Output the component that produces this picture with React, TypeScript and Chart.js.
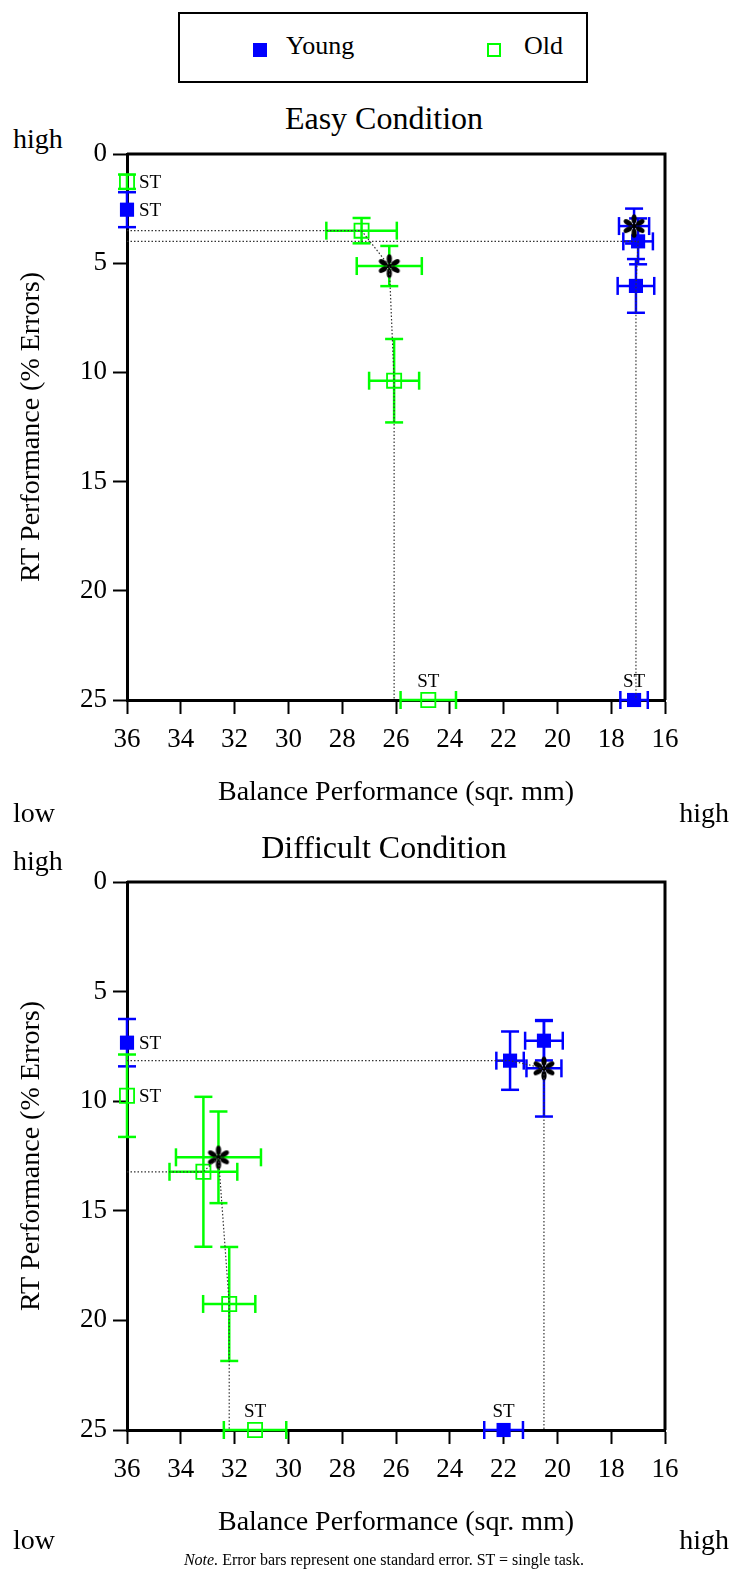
import React, { useEffect, useRef } from 'react';
import { Chart, registerables } from 'chart.js';

Chart.register(...registerables);

const SERIF = '"Liberation Serif", "Times New Roman", Times, serif';
const BLUE = '#0000ff';
const GREEN = '#00ff00';

// Tick labels
const xTicks = [36, 34, 32, 30, 28, 26, 24, 22, 20, 18, 16];
const yTicks = [0, 5, 10, 15, 20, 25];

// ---------- Easy condition ----------
// Young: squares (ST RT, ST balance, dual-task points)
const easyYoungSqX = [36, 17.15, 17.0, 17.08];
const easyYoungSqY = [2.55, 25, 4.0, 6.04];
const easyYoungSqXErr = [0, 0.51, 0.55, 0.68];
const easyYoungSqYErr = [0.8, 0, 1.05, 1.23];
const easyYoungSqTag = ['ST', 'ST', '', ''];
const easyYoungStarX = [17.15];
const easyYoungStarY = [3.3];
const easyYoungStarXErr = [0.56];
const easyYoungStarYErr = [0.8];
const easyYoungPathX = [36, 17.0, 17.08, 17.08];
const easyYoungPathY = [4.0, 4.0, 6.04, 25];
// Old
const easyOldSqX = [36, 24.8, 27.28, 26.07];
const easyOldSqY = [1.27, 25, 3.51, 10.38];
const easyOldSqXErr = [0, 1.03, 1.31, 0.93];
const easyOldSqYErr = [0.33, 0, 0.58, 1.91];
const easyOldSqTag = ['ST', 'ST', '', ''];
const easyOldStarX = [26.25];
const easyOldStarY = [5.13];
const easyOldStarXErr = [1.21];
const easyOldStarYErr = [0.92];
const easyOldPathX = [36, 27.28, 26.25, 26.07, 26.07];
const easyOldPathY = [3.51, 3.51, 5.13, 10.38, 25];

// ---------- Difficult condition ----------
const diffYoungSqX = [36, 22.0, 21.76, 20.5];
const diffYoungSqY = [7.33, 25, 8.15, 7.24];
const diffYoungSqXErr = [0, 0.72, 0.51, 0.7];
const diffYoungSqYErr = [1.08, 0, 1.33, 0.9];
const diffYoungSqTag = ['ST', 'ST', '', ''];
const diffYoungStarX = [20.5];
const diffYoungStarY = [8.5];
const diffYoungStarXErr = [0.65];
const diffYoungStarYErr = [2.2];
const diffYoungPathX = [36, 21.76, 20.5, 20.5];
const diffYoungPathY = [8.15, 8.15, 8.5, 25];

const diffOldSqX = [36, 31.24, 33.16, 32.2];
const diffOldSqY = [9.75, 25, 13.22, 19.25];
const diffOldSqXErr = [0, 1.16, 1.26, 0.97];
const diffOldSqYErr = [1.88, 0, 3.42, 2.6];
const diffOldSqTag = ['ST', 'ST', '', ''];
const diffOldStarX = [32.6];
const diffOldStarY = [12.56];
const diffOldStarXErr = [1.58];
const diffOldStarYErr = [2.09];
const diffOldPathX = [36, 33.16, 32.6, 32.2, 32.2];
const diffOldPathY = [13.22, 13.22, 12.56, 19.25, 25];

function makeAsterisk(): HTMLCanvasElement {
  const c = document.createElement('canvas');
  c.width = 30;
  c.height = 30;
  const ctx = c.getContext('2d')!;
  ctx.fillStyle = '#000';
  ctx.strokeStyle = '#000';
  ctx.lineWidth = 1.8;
  for (let k = 0; k < 6; k++) {
    const a = -Math.PI / 2 + (k * Math.PI) / 3;
    ctx.beginPath();
    ctx.moveTo(15, 15);
    ctx.lineTo(15 + 8 * Math.cos(a), 15 + 8 * Math.sin(a));
    ctx.stroke();
    ctx.beginPath();
    ctx.ellipse(15 + 7.2 * Math.cos(a), 15 + 7.2 * Math.sin(a), 4.6, 2.6, a, 0, Math.PI * 2);
    ctx.fill();
  }
  ctx.beginPath();
  ctx.arc(15, 15, 2.2, 0, Math.PI * 2);
  ctx.fill();
  return c;
}

const pts = (xs: number[], ys: number[], xe?: number[], ye?: number[], tags?: string[]) =>
  xs.map((x, i) => ({ x, y: ys[i], xErr: xe ? xe[i] : 0, yErr: ye ? ye[i] : 0, tag: tags ? tags[i] : '' }));

function groupDatasets(
  name: string,
  color: string,
  filled: boolean,
  star: HTMLCanvasElement,
  sq: [number[], number[], number[], number[], string[]],
  st: [number[], number[], number[], number[]],
  path: [number[], number[]]
) {
  return [
    {
      label: name + ' path',
      data: pts(path[0], path[1]),
      showLine: true,
      borderColor: '#333',
      borderWidth: 1.2,
      borderDash: [1.5, 2],
      pointRadius: 0,
      clip: false,
      order: 0,
    },
    {
      label: name + ' no priority',
      data: pts(st[0], st[1], st[2], st[3]),
      pointStyle: star,
      pointRadius: 12,
      errColor: color,
      clip: false,
      order: 0,
    },
    {
      label: name,
      data: pts(sq[0], sq[1], sq[2], sq[3], sq[4]),
      pointStyle: 'rect',
      pointRadius: 10,
      backgroundColor: filled ? color : 'rgba(255,255,255,0)',
      borderColor: color,
      borderWidth: filled ? 0 : 1.8,
      errColor: color,
      clip: false,
      order: 1,
    },
  ];
}

const CAP = 9;
const errorBarPlugin = {
  id: 'errorBars',
  beforeDatasetsDraw(chart: any) {
    const ctx = chart.ctx;
    const xs = chart.scales.x;
    const ys = chart.scales.y;
    chart.data.datasets.forEach((ds: any) => {
      if (!ds.errColor) return;
      ctx.save();
      ctx.strokeStyle = ds.errColor;
      ctx.lineWidth = 2.5;
      const seg = (a: number, b: number, c: number, d: number) => {
        ctx.beginPath();
        ctx.moveTo(a, b);
        ctx.lineTo(c, d);
        ctx.stroke();
      };
      ds.data.forEach((p: any) => {
        const px = xs.getPixelForValue(p.x);
        const py = ys.getPixelForValue(p.y);
        if (p.xErr) {
          const a = xs.getPixelForValue(p.x - p.xErr);
          const b = xs.getPixelForValue(p.x + p.xErr);
          seg(a, py, b, py);
          seg(a, py - CAP, a, py + CAP);
          seg(b, py - CAP, b, py + CAP);
        }
        if (p.yErr) {
          const a = ys.getPixelForValue(p.y - p.yErr);
          const b = ys.getPixelForValue(p.y + p.yErr);
          seg(px, a, px, b);
          seg(px - CAP, a, px + CAP, a);
          seg(px - CAP, b, px + CAP, b);
        }
      });
      ctx.restore();
    });
  },
};

const stLabelPlugin = {
  id: 'stLabels',
  afterDatasetsDraw(chart: any) {
    const ctx = chart.ctx;
    const xs = chart.scales.x;
    const ys = chart.scales.y;
    ctx.save();
    ctx.fillStyle = '#000';
    ctx.font = '19px ' + SERIF;
    chart.data.datasets.forEach((ds: any) => {
      ds.data.forEach((p: any) => {
        if (!p.tag) return;
        const px = xs.getPixelForValue(p.x);
        const py = ys.getPixelForValue(p.y);
        if (p.y >= ys.max) {
          ctx.textAlign = 'center';
          ctx.textBaseline = 'alphabetic';
          ctx.fillText(p.tag, px, py - 13);
        } else {
          ctx.textAlign = 'left';
          ctx.textBaseline = 'middle';
          ctx.fillText(p.tag, px + 12, py + 1);
        }
      });
    });
    ctx.restore();
  },
};

const framePlugin = {
  id: 'frame',
  afterDraw(chart: any) {
    const { left, right, top, bottom } = chart.chartArea;
    const ctx = chart.ctx;
    ctx.save();
    ctx.strokeStyle = '#000';
    ctx.lineWidth = 3;
    ctx.beginPath();
    ctx.moveTo(left, top);
    ctx.lineTo(right, top);
    ctx.lineTo(right, bottom);
    ctx.stroke();
    ctx.restore();
  },
};

function makeOptions(): any {
  const tickFont = { family: SERIF, size: 27 };
  const grid = {
    display: true,
    drawOnChartArea: false,
    drawTicks: true,
    tickLength: 14,
    tickWidth: 2,
    tickColor: '#000',
  };
  const border = { display: true, color: '#000', width: 3 };
  return {
    animation: false,
    responsive: false,
    events: [],
    layout: { padding: { top: 54, right: 82, left: 0, bottom: 0 } },
    plugins: { legend: { display: false }, tooltip: { enabled: false }, title: { display: false } },
    scales: {
      x: {
        type: 'linear',
        reverse: true,
        min: 16,
        max: 36,
        afterBuildTicks: (s: any) => {
          s.ticks = xTicks.map((v) => ({ value: v }));
        },
        ticks: { font: tickFont, color: '#000', padding: 10, maxRotation: 0, autoSkip: false },
        grid,
        border,
        title: {
          display: true,
          text: 'Balance Performance (sqr. mm)',
          font: { family: SERIF, size: 28 },
          color: '#000',
          padding: { top: 0, bottom: 21 },
        },
        afterFit: (s: any) => {
          s.height = 130;
          s.paddingLeft = 0;
          s.paddingRight = 0;
        },
      },
      y: {
        type: 'linear',
        reverse: true,
        min: 0,
        max: 25,
        afterBuildTicks: (s: any) => {
          s.ticks = yTicks.map((v) => ({ value: v }));
        },
        ticks: { font: tickFont, color: '#000', padding: 6 },
        grid,
        border,
        title: {
          display: true,
          text: 'RT Performance (% Errors)',
          font: { family: SERIF, size: 28 },
          color: '#000',
          padding: { top: 15, bottom: 0 },
        },
        afterFit: (s: any) => {
          s.width = 127;
          s.paddingTop = 0;
          s.paddingBottom = 0;
        },
      },
    },
  };
}

function Txt(props: {
  children: React.ReactNode;
  size: number;
  baseline: number;
  left?: number;
  right?: number;
  cx?: number;
}) {
  const { size, baseline } = props;
  const style: React.CSSProperties = {
    position: 'absolute',
    top: baseline - 0.8375 * size,
    fontSize: size,
    lineHeight: size + 'px',
    whiteSpace: 'nowrap',
    fontFamily: SERIF,
    color: '#000',
  };
  if (props.cx !== undefined) {
    style.left = props.cx - 350;
    style.width = 700;
    style.textAlign = 'center';
  } else if (props.right !== undefined) {
    style.right = 747 - props.right;
  } else {
    style.left = props.left;
  }
  return <div style={style}>{props.children}</div>;
}

export default function App() {
  const ref1 = useRef<HTMLCanvasElement>(null);
  const ref2 = useRef<HTMLCanvasElement>(null);

  useEffect(() => {
    const star = makeAsterisk();
    const plugins = [errorBarPlugin, stLabelPlugin, framePlugin];
    const c1 = new Chart(ref1.current!, {
      type: 'scatter',
      data: {
        datasets: [
          ...groupDatasets('Young', BLUE, true, star,
            [easyYoungSqX, easyYoungSqY, easyYoungSqXErr, easyYoungSqYErr, easyYoungSqTag],
            [easyYoungStarX, easyYoungStarY, easyYoungStarXErr, easyYoungStarYErr],
            [easyYoungPathX, easyYoungPathY]),
          ...groupDatasets('Old', GREEN, false, star,
            [easyOldSqX, easyOldSqY, easyOldSqXErr, easyOldSqYErr, easyOldSqTag],
            [easyOldStarX, easyOldStarY, easyOldStarXErr, easyOldStarYErr],
            [easyOldPathX, easyOldPathY]),
        ] as any,
      },
      options: makeOptions(),
      plugins,
    });
    const c2 = new Chart(ref2.current!, {
      type: 'scatter',
      data: {
        datasets: [
          ...groupDatasets('Young', BLUE, true, star,
            [diffYoungSqX, diffYoungSqY, diffYoungSqXErr, diffYoungSqYErr, diffYoungSqTag],
            [diffYoungStarX, diffYoungStarY, diffYoungStarXErr, diffYoungStarYErr],
            [diffYoungPathX, diffYoungPathY]),
          ...groupDatasets('Old', GREEN, false, star,
            [diffOldSqX, diffOldSqY, diffOldSqXErr, diffOldSqYErr, diffOldSqTag],
            [diffOldStarX, diffOldStarY, diffOldStarXErr, diffOldStarYErr],
            [diffOldPathX, diffOldPathY]),
        ] as any,
      },
      options: makeOptions(),
      plugins,
    });
    return () => {
      c1.destroy();
      c2.destroy();
    };
  }, []);

  return (
    <div style={{ position: 'absolute', left: 0, top: 0, width: 747, height: 1571, background: '#fff', overflow: 'hidden' }}>
      {/* Legend */}
      <div style={{ position: 'absolute', left: 178, top: 12, width: 410, height: 71, border: '2px solid #000', boxSizing: 'border-box' }} />
      <div style={{ position: 'absolute', left: 253, top: 43, width: 14, height: 14, background: BLUE }} />
      <Txt size={26} baseline={55} left={286}>Young</Txt>
      <div style={{ position: 'absolute', left: 487, top: 43, width: 14, height: 14, border: '2px solid ' + GREEN, boxSizing: 'border-box' }} />
      <Txt size={26} baseline={55} left={524}>Old</Txt>

      {/* Easy condition */}
      <Txt size={32} baseline={129} cx={384}>Easy Condition</Txt>
      <Txt size={28} baseline={148} left={13}>high</Txt>
      <canvas ref={ref1} width={747} height={730} style={{ position: 'absolute', left: 0, top: 100 }} />
      <Txt size={28} baseline={822} left={13}>low</Txt>
      <Txt size={28} baseline={822} right={729}>high</Txt>

      {/* Difficult condition */}
      <Txt size={32} baseline={858} cx={384}>Difficult Condition</Txt>
      <Txt size={28} baseline={870} left={13}>high</Txt>
      <canvas ref={ref2} width={747} height={732} style={{ position: 'absolute', left: 0, top: 828 }} />
      <Txt size={28} baseline={1549} left={13}>low</Txt>
      <Txt size={28} baseline={1549} right={729}>high</Txt>

      <Txt size={16} baseline={1565} cx={384}>
        <i>Note.</i> Error bars represent one standard error. ST = single task.
      </Txt>
    </div>
  );
}
